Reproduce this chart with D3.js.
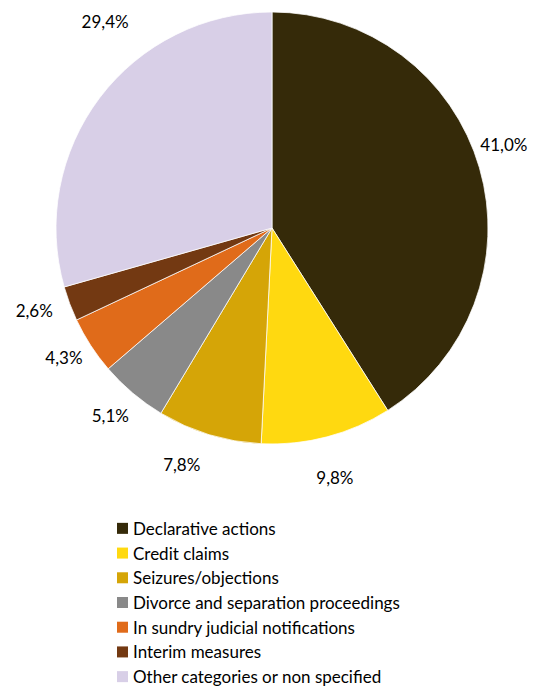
<!DOCTYPE html>
<html>
<head>
<meta charset="utf-8">
<script src="https://cdn.jsdelivr.net/npm/d3@7"></script>
<style>
  html, body { margin: 0; padding: 0; background: #fff; }
  svg { display: block; }
  text { font-family: Lato, "Open Sans", sans-serif; fill: #000; }
</style>
</head>
<body>
<script>
const categories = [
  "Declarative actions",
  "Credit claims",
  "Seizures/objections",
  "Divorce and separation proceedings",
  "In sundry judicial notifications",
  "Interim measures",
  "Other categories or non specified"
];
const values = [41.0, 9.8, 7.8, 5.1, 4.3, 2.6, 29.4];
const labels = ["41,0%", "9,8%", "7,8%", "5,1%", "4,3%", "2,6%", "29,4%"];
const colors = ["#352A09", "#FFD910", "#D5A507", "#898989", "#E06B1A", "#733912", "#D8CFE7"];
// Excel "best fit" label nudges (degrees) relative to slice mid-angle
const labelAngleShift = [-3.5, 0.6, 4, 0.7, 1, 1.4, 14];
const labelRadiusFactor = [1.14, 1.19, 1.17, 1.145, 1.135, 1.165, 1.23];

const W = 534, H = 686;
const cx = 272, cy = 228, R = 216;

const svg = d3.select("body").append("svg").attr("width", W).attr("height", H);

const pie = d3.pie().sort(null).value(d => d);
const arcs = pie(values);
const arc = d3.arc().innerRadius(0).outerRadius(R);

const g = svg.append("g").attr("transform", `translate(${cx},${cy})`);
g.selectAll("path").data(arcs).join("path")
  .attr("d", arc)
  .attr("fill", (d, i) => colors[i])
  .attr("stroke", "#fff")
  .attr("stroke-width", 0.75);

g.selectAll("text.lbl").data(arcs).join("text")
  .attr("class", "lbl")
  .attr("text-anchor", "middle")
  .attr("dominant-baseline", "central")
  .attr("font-size", 17)
  .attr("transform", (d, i) => {
    const a = (d.startAngle + d.endAngle) / 2 + labelAngleShift[i] * Math.PI / 180;
    const r = R * labelRadiusFactor[i];
    return `translate(${r * Math.sin(a)},${-r * Math.cos(a)})`;
  })
  .text((d, i) => labels[i]);

const legY = d3.scaleBand().domain(d3.range(categories.length)).range([516, 689]);
const leg = svg.append("g");
const rows = leg.selectAll("g").data(categories).join("g")
  .attr("transform", (d, i) => `translate(117,${legY(i) + legY.bandwidth() / 2})`);
rows.append("rect").attr("x", 0).attr("y", -5.5).attr("width", 11).attr("height", 11)
  .attr("fill", (d, i) => colors[i]);
rows.append("text").attr("x", 16).attr("y", 0).attr("dominant-baseline", "central")
  .attr("font-size", 17).text(d => d);
</script>
</body>
</html>
